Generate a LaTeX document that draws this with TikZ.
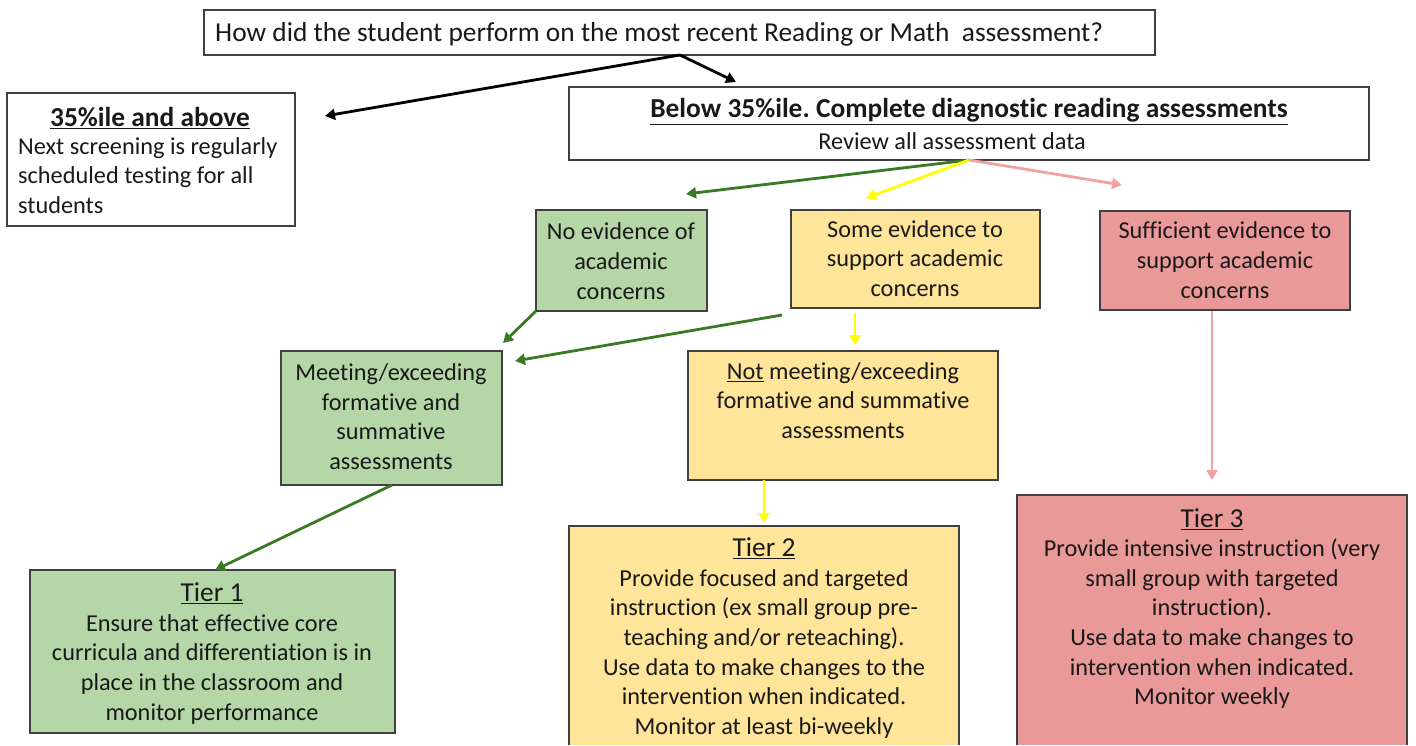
\documentclass[tikz,border=0pt]{standalone}
\usepackage{fontspec}
\setmainfont{Carlito}[Ligatures=NoCommon]
\frenchspacing
\usetikzlibrary{arrows.meta,calc}
\definecolor{boxgreen}{HTML}{B5D7A8}
\definecolor{boxyellow}{HTML}{FFE599}
\definecolor{boxred}{HTML}{EA9999}
\definecolor{bordergray}{HTML}{404040}
\definecolor{arrgreen}{HTML}{3B7A24}
\definecolor{arryellow}{HTML}{FFFF00}
\definecolor{arrpink}{HTML}{EFA3A3}
\newcommand{\tierhead}[1]{{\fontsize{27.4}{29.6}\selectfont\underline{#1}}}
\tikzset{
  boxshape/.style={draw=bordergray, line width=1.2pt, inner sep=0pt, outer sep=0pt, anchor=north west},
  openbox/.style={inner sep=0pt, outer sep=0pt, anchor=north west},
  border/.style={draw=bordergray, line width=1.2pt},
  txt/.style={font=\fontsize{24.3}{29.6}\selectfont, align=center, inner sep=0pt, text=black!90},
  bigtxt/.style={font=\fontsize{27.4}{33}\selectfont, align=center, inner sep=0pt, text=black!90},
  conn/.style={line width=2.8pt, -{Triangle[length=10pt,width=11pt]}},
}
\begin{document}
\begin{tikzpicture}[x=1pt,y=-1pt]
\useasboundingbox (0,0) rectangle (1416,745);
% boxes
\node[boxshape, fill=white, minimum width=951pt, minimum height=45pt] (top) at (204,10) {};
\node[boxshape, fill=white, minimum width=288pt, minimum height=133pt] (above) at (7,93) {};
\node[boxshape, fill=white, minimum width=800pt, minimum height=73pt] (below) at (569,87) {};
\node[boxshape, fill=boxgreen, minimum width=171pt, minimum height=101pt] (noev) at (536,210) {};
\node[boxshape, fill=boxyellow, minimum width=249pt, minimum height=98pt] (someev) at (791,210) {};
\node[boxshape, fill=boxred, minimum width=250pt, minimum height=99pt] (suffev) at (1100,211) {};
\node[boxshape, fill=boxgreen, minimum width=221pt, minimum height=134pt] (meet) at (281,351) {};
\node[boxshape, fill=boxyellow, minimum width=310pt, minimum height=129pt] (notmeet) at (688,351) {};
\node[boxshape, fill=boxgreen, minimum width=365pt, minimum height=163pt] (tier1) at (30,570) {};
\node[openbox, fill=boxyellow, minimum width=390pt, minimum height=219pt] (tier2) at (569,526) {};
\draw[border] (tier2.south west) -- (tier2.north west) -- (tier2.north east) -- (tier2.south east);
\node[openbox, fill=boxred, minimum width=390pt, minimum height=250pt] (tier3) at (1017,495) {};
\draw[border] (tier3.south west) -- (tier3.north west) -- (tier3.north east) -- (tier3.south east);
% texts
\node[bigtxt, anchor=west] (toptxt) at (215,34.5) {How did the student perform on the most recent Reading or Math~ assessment?};
\node[bigtxt] (abovetitle) at (150,118) {\textbf{\underline{35\%ile and above}}};
\node[txt, anchor=west, align=left] (abovetxt) at (18,178) {\strut Next screening is regularly\\scheduled testing for all\\students\strut};
\node[bigtxt] (belowtitle) at (969,111.5) {\textbf{\underline{Below 35\%ile. Complete diagnostic reading assessments}}};
\node[txt] (belowtxt) at (952,141) {Review all assessment data};
\node[txt] (noevtxt) at (621,263.5) {\strut No evidence of\\academic\\concerns\strut};
\node[txt] (someevtxt) at (915,261) {\strut Some evidence to\\support academic\\concerns\strut};
\node[txt] (suffevtxt) at (1225,262.5) {\strut Sufficient evidence to\\support academic\\concerns\strut};
\node[txt] (meettxt) at (391,419) {\strut Meeting/exceeding\\formative and\\summative\\assessments\strut};
\node[txt] (notmeettxt) at (843,403) {\strut\underline{Not} meeting/exceeding\\formative and summative\\assessments\strut};
\node[txt] (tier1txt) at (212,655) {\strut\tierhead{Tier 1}\\Ensure that effective core\\curricula and differentiation is in\\place in the classroom and\\monitor performance\strut};
\node[txt] (tier2txt) at (764,639.5) {\strut\tierhead{Tier 2}\\Provide focused and targeted\\instruction (ex small group pre-\\teaching and/or reteaching).\\Use data to make changes to the\\intervention when indicated.\\Monitor at least bi-weekly\strut};
\node[txt] (tier3txt) at (1212,610) {\strut\tierhead{Tier 3}\\Provide intensive instruction (very\\small group with targeted\\instruction).\\Use data to make changes to\\intervention when indicated.\\Monitor weekly\strut};
% connector points
\coordinate (qsplit) at (680,55);
\coordinate (e35) at (325,116);
\coordinate (ebelow) at (736,82);
\coordinate (bsplit) at (969,160);
\coordinate (enoev) at (686,194);
\coordinate (esomeev) at (866,198);
\coordinate (esuffev) at (1122,185);
\coordinate (enoevmeet) at (503,343);
\coordinate (ssomemeet) at (782,315);
\coordinate (esomemeet) at (515,361);
\coordinate (ssomenot) at (855,313);
\coordinate (esomenot) at (855,345);
\coordinate (smeet) at (392,485);
\coordinate (etier1) at (215,570);
\coordinate (snot) at (764,480);
\coordinate (etier2) at (764,523);
\coordinate (ssuff) at (1212,311);
\coordinate (etier3) at (1212,480);
% connectors
\draw[conn, black] (qsplit) -- (e35);
\draw[conn, black] (qsplit) -- (ebelow);
\draw[conn, arrgreen] (bsplit) -- (enoev);
\draw[conn, arryellow] (bsplit) -- (esomeev);
\draw[conn, arrpink] (bsplit) -- (esuffev);
\draw[conn, arrgreen] (noev.south west) -- (enoevmeet);
\draw[conn, arrgreen] (ssomemeet) -- (esomemeet);
\draw[conn, arryellow] (ssomenot) -- (esomenot);
\draw[conn, arrgreen] (smeet) -- (etier1);
\draw[conn, arryellow] (snot) -- (etier2);
\draw[conn, arrpink] (ssuff) -- (etier3);
\end{tikzpicture}
\end{document}
